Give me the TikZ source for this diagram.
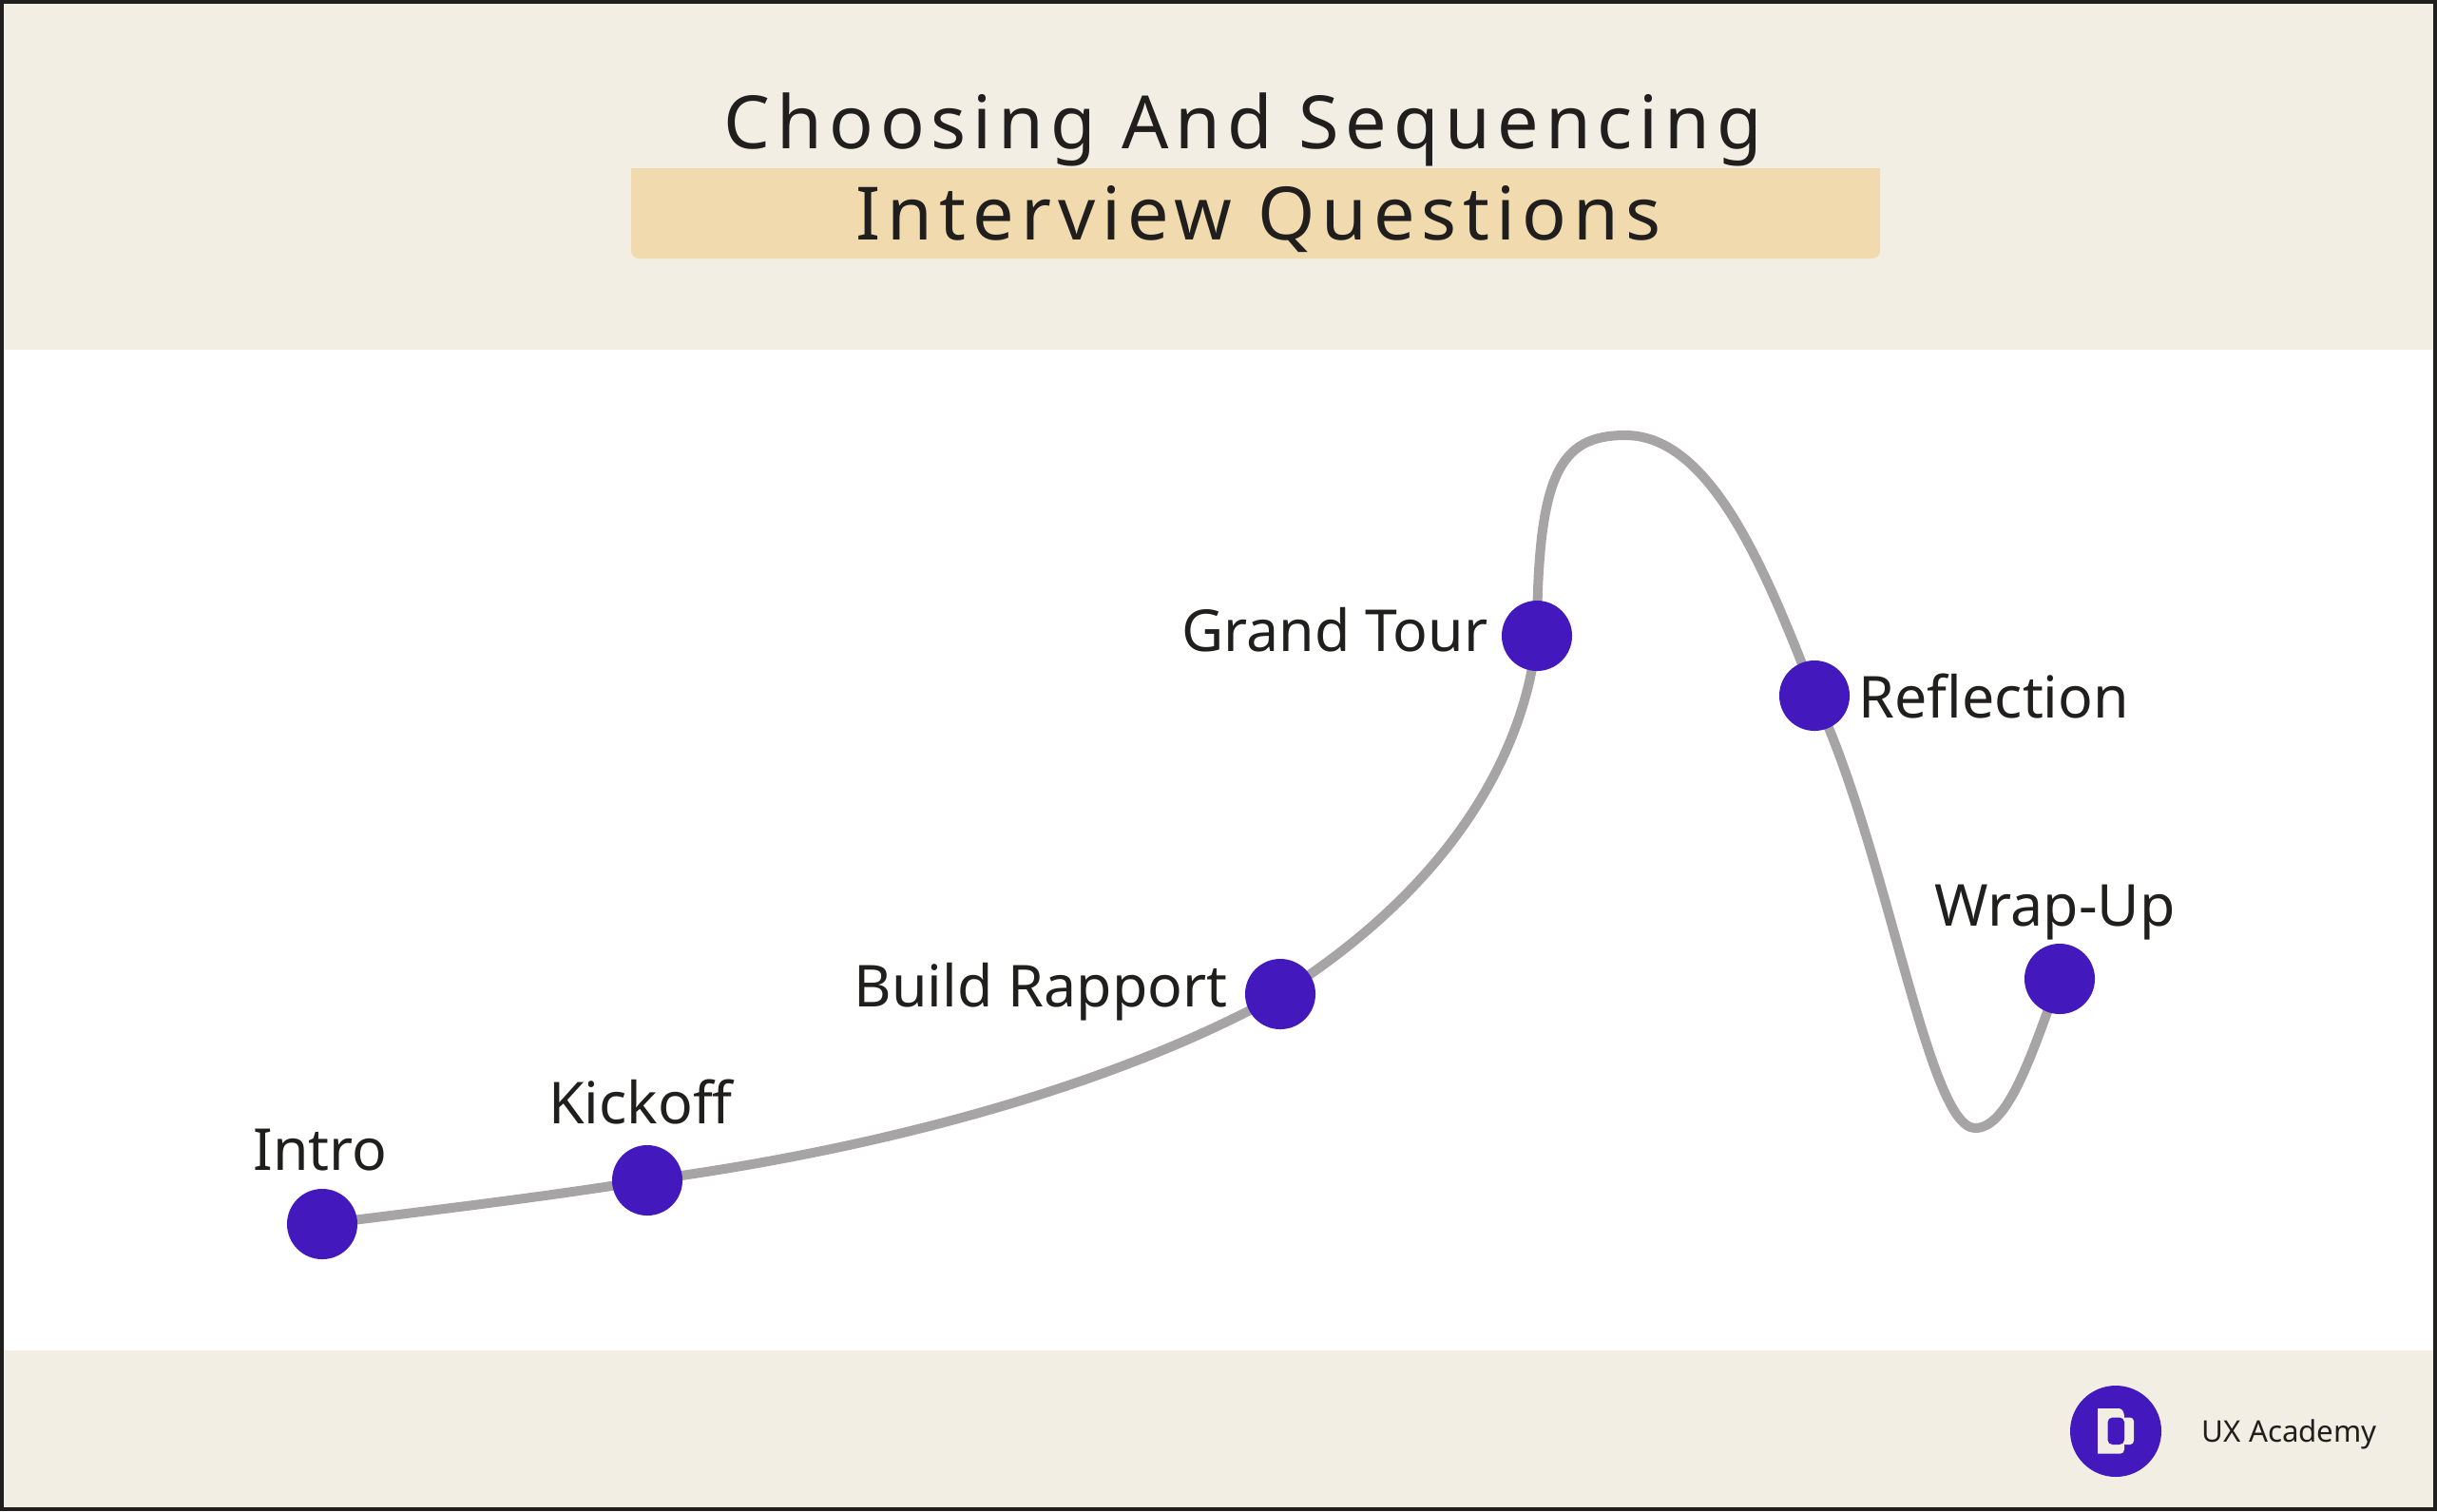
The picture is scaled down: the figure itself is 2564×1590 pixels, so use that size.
\documentclass[tikz,border=0pt]{standalone}
\usepackage{fontspec}
\usepackage{xcolor}
\usetikzlibrary{backgrounds}
\setmainfont[Ligatures=NoCommon]{Noto Sans}
\newfontfamily\titlefont[LetterSpace=9,Ligatures=NoCommon]{Noto Sans}
\definecolor{academyink}{HTML}{211F1E}
\definecolor{academysand}{HTML}{F3EEE3}
\definecolor{academygold}{HTML}{F1DBAE}
\definecolor{academyviolet}{HTML}{4318BD}
\definecolor{academygrey}{HTML}{A6A4A4}

\begin{document}
\begin{tikzpicture}[
  x=0.01cm,
  y=-0.01cm,
  every node/.style={text=academyink},
  dot/.style={circle, fill=academyviolet, inner sep=0pt, minimum size=0.74cm},
  phase/.style={font=\fontsize{17.3}{20}\selectfont},
  headline/.style={font=\titlefont\fontsize{22}{26}\selectfont, anchor=base}
]
  \useasboundingbox (0,0) rectangle (2564,1590);

  % Stages on the curve
  \node[dot] (intro) at (339,1288) {};
  \node[dot] (kickoff) at (681,1242) {};
  \node[dot] (rapport) at (1347,1046) {};
  \node[dot] (tour) at (1617,669) {};
  \node[dot] (reflection) at (1909,732) {};
  \node[dot] (wrapup) at (2167,1030) {};
  \coordinate (peak) at (1710,458);
  \coordinate (trough) at (2078,1187);

  % Stage labels
  \node[phase, anchor=base] (introlabel) at (337,1231) {Intro};
  \node[phase, anchor=base] (kickofflabel) at (674,1182) {Kickoff};
  \node[phase, anchor=base east, inner sep=0pt] (rapportlabel) at (1292,1059) {Build Rapport};
  \node[phase, anchor=base east, inner sep=0pt] (tourlabel) at (1566,685) {Grand Tour};
  \node[phase, anchor=base west, inner sep=0pt] (reflectionlabel) at (1955,755) {Reflection};
  \node[phase, anchor=base] (wrapuplabel) at (2162,974) {Wrap-Up};

  % Title
  \node[headline] (titletop) at (1308,156) {Choosing And Sequencing};
  \node[headline] (titlebottom) at (1324,252) {Interview Questions};

  % Footer
  \fill[academyviolet] (2226,1506) circle (48);
  \fill[academysand] (2207,1482) -- (2229,1482) .. controls (2233,1482) and (2235,1486) .. (2235,1491.5)
    -- (2235,1525) .. controls (2235,1528) and (2233,1529.5) .. (2231,1529.5) -- (2207,1529.5) -- cycle;
  \fill[academysand, rounded corners=0.04cm] (2232,1491.5) rectangle (2245,1520);
  \fill[academyviolet, rounded corners=0.05cm] (2217.5,1491.5) rectangle (2235,1520);
  \node[anchor=base west, inner sep=0pt, font=\fontsize{8.9}{11}\selectfont] (academy) at (2316,1517) {UX Academy};

  \begin{pgfonlayer}{background}
    % Bands and highlight
    \fill[academysand] (0,0) rectangle (2564,368);
    \fill[academysand] (0,1421) rectangle (2564,1590);
    \fill[academygold] (664,177) -- (1978,177) [rounded corners=0.08cm] -- (1978,272) -- (664,272) [sharp corners] -- cycle;
    \draw[academyink, line width=0.04cm] (2,2) rectangle (2562,1588);

    % Curve
    \draw[academygrey, line width=0.1cm]
      (intro.center) .. controls (450,1274) and (570,1260) .. (kickoff.center)
      .. controls (900,1213) and (1160,1150) .. (rapport.center)
      .. controls (1530,930) and (1605,790) .. (tour.center)
      .. controls (1618,500) and (1640,458) .. (peak)
      .. controls (1800,458) and (1858,600) .. (reflection.center)
      .. controls (1985,890) and (2028,1187) .. (trough)
      .. controls (2115,1187) and (2140,1100) .. (wrapup.center);
  \end{pgfonlayer}
\end{tikzpicture}
\end{document}
